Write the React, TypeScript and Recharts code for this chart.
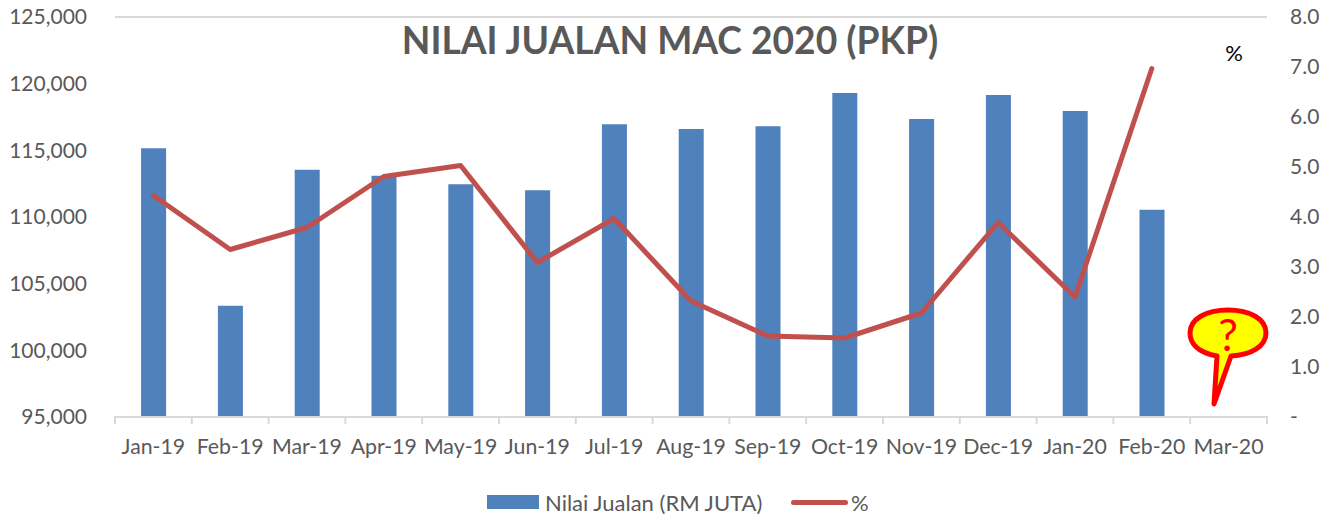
import React from 'react';
import {
  Bar,
  CartesianGrid,
  ComposedChart,
  Legend,
  Line,
  XAxis,
  YAxis,
} from 'recharts';

const MONTHS = [
  'Jan-19', 'Feb-19', 'Mar-19', 'Apr-19', 'May-19', 'Jun-19', 'Jul-19', 'Aug-19',
  'Sep-19', 'Oct-19', 'Nov-19', 'Dec-19', 'Jan-20', 'Feb-20', 'Mar-20',
];
const SALES = [
  115150, 103350, 113550, 113100, 112450, 112000, 116950, 116600,
  116800, 119300, 117350, 119150, 117950, 110550, null,
];
const PERCENT = [
  4.43, 3.35, 3.79, 4.81, 5.03, 3.09, 3.97, 2.32,
  1.62, 1.58, 2.08, 3.89, 2.4, 6.97, null,
];
const LEFT_TICKS = [95000, 100000, 105000, 110000, 115000, 120000, 125000];
const RIGHT_TICKS = [0, 1, 2, 3, 4, 5, 6, 7, 8];

const DATA = MONTHS.map((month, i) => ({ month, sales: SALES[i], percent: PERCENT[i] }));

const WIDTH = 1339;
const HEIGHT = 514;
const FONT = 'Lato, Carlito, sans-serif';
const TEXT = '#595959';
const GRID = '#D9D9D9';
const BAND = (1267 - 115) / MONTHS.length;

const MonthTick: React.FC<any> = ({ x, y, payload, index }) => (
  <g>
    <line x1={x - BAND / 2} x2={x - BAND / 2} y1={416} y2={424} stroke={GRID} strokeWidth={2} />
    {index === MONTHS.length - 1 && (
      <line x1={x + BAND / 2} x2={x + BAND / 2} y1={416} y2={424} stroke={GRID} strokeWidth={2} />
    )}
    <text x={x} y={y + 29} textAnchor="middle" fill={TEXT} fontSize={21.3} fontFamily={FONT}>
      {payload.value}
    </text>
  </g>
);

const ChartLegend: React.FC = () => (
  <div style={{ display: 'flex', alignItems: 'center', fontFamily: FONT, fontSize: 22, color: TEXT, height: 28 }}>
    <span style={{ width: 52, height: 14, background: '#4F81BD', marginRight: 6 }} />
    <span style={{ width: 246 }}>Nilai Jualan (RM JUTA)</span>
    <span style={{ width: 57, height: 5, borderRadius: 3, background: '#C0504D', marginRight: 3 }} />
    <span>%</span>
  </div>
);

export default function App() {
  return (
    <div style={{ position: 'absolute', left: 0, top: 0, width: WIDTH, height: HEIGHT, background: '#fff' }}>
      <ComposedChart
        width={WIDTH}
        height={HEIGHT}
        data={DATA}
        margin={{ top: 17, right: 0, bottom: 0, left: 0 }}
        barCategoryGap="34%"
      >
        <CartesianGrid horizontal vertical={false} stroke={GRID} strokeWidth={2} />
        <XAxis
          dataKey="month"
          interval={0}
          height={69}
          stroke={GRID}
          strokeWidth={2}
          tickLine={false}
          tick={<MonthTick />}
        />
        <YAxis
          yAxisId="left"
          width={115}
          domain={[95000, 125000]}
          ticks={LEFT_TICKS}
          axisLine={false}
          tickLine={false}
          tickMargin={22}
          tickFormatter={(v: number) => v.toLocaleString('en-US')}
          tick={{ fill: TEXT, fontSize: 21, fontFamily: FONT }}
        />
        <YAxis
          yAxisId="right"
          orientation="right"
          width={72}
          domain={[0, 8]}
          ticks={RIGHT_TICKS}
          axisLine={false}
          tickLine={false}
          tickMargin={17}
          tickFormatter={(v: number) => (v === 0 ? '-' : v.toFixed(1))}
          tick={{ fill: TEXT, fontSize: 21, fontFamily: FONT }}
        />
        <Legend
          content={<ChartLegend />}
          wrapperStyle={{ position: 'absolute', left: 487, top: 488, width: 400, bottom: 'auto' }}
        />
        <Bar yAxisId="left" dataKey="sales" name="Nilai Jualan (RM JUTA)" fill="#4F81BD" isAnimationActive={false} />
        <Line
          yAxisId="right"
          dataKey="percent"
          name="%"
          stroke="#C0504D"
          strokeWidth={5}
          strokeLinecap="round"
          strokeLinejoin="round"
          dot={false}
          isAnimationActive={false}
        />
        <text x={670} y={54} textAnchor="middle" fill={TEXT} fontSize={37.2} fontWeight={700} fontFamily={FONT}>
          NILAI JUALAN MAC 2020 (PKP)
        </text>
        <text x={1234} y={61} textAnchor="middle" fill="#000" fontSize={22} fontFamily={FONT}>
          %
        </text>
        {/* question mark callout */}
        <path
          d="M1217 356 C1196 352 1190 342 1190 333 C1190 319 1206 310 1228 310 C1250 310 1266 319 1266 333 C1266 347 1250 355 1231 356 L1214 404 Z"
          fill="#FFFF00"
          stroke="#FF0000"
          strokeWidth={5}
          strokeLinejoin="round"
        />
        <text x={1228} y={351} textAnchor="middle" fill="#FF0000" fontSize={44} fontFamily={FONT}>
          ?
        </text>
      </ComposedChart>
    </div>
  );
}
